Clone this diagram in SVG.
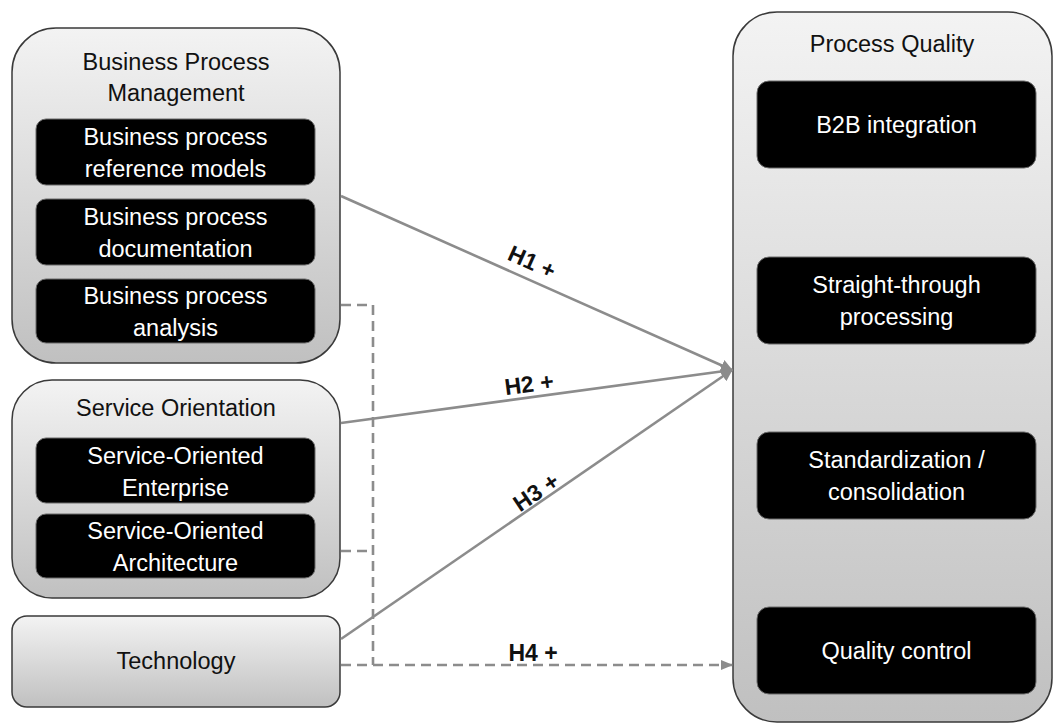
<svg xmlns="http://www.w3.org/2000/svg" width="1054" height="724" viewBox="0 0 1054 724">
  <style>
    .outer { stroke: #3a3a3a; stroke-width: 1.5; }
    .inner { fill: #000; stroke: #6a6a6a; stroke-width: 1; }
    .t { font-family: "Liberation Sans", Arial, sans-serif; font-size: 23.5px; text-anchor: middle; }
    .dark { fill: #111; }
    .light { fill: #fff; }
    .lbl { font-family: "Liberation Sans", Arial, sans-serif; font-size: 23px; font-weight: bold; fill: #111; text-anchor: middle; }
    .solid { stroke: #8c8c8c; stroke-width: 2.6; fill: none; }
    .dash { stroke: #8c8c8c; stroke-width: 2.6; fill: none; stroke-dasharray: 10 6; }
  </style>
  <defs>
    <linearGradient id="boxFill" x1="0" y1="0" x2="0" y2="1">
      <stop offset="0" stop-color="#f3f3f3"/>
      <stop offset="1" stop-color="#c0c0c0"/>
    </linearGradient>
    <marker id="arrow" viewBox="0 0 12 12" refX="11" refY="6" markerWidth="12" markerHeight="12" markerUnits="userSpaceOnUse" orient="auto">
      <path d="M0,0 L12,6 L0,12 z" fill="#8c8c8c"/>
    </marker>
    <marker id="arrowSmall" viewBox="0 0 12 10" refX="11" refY="5" markerWidth="14" markerHeight="10" markerUnits="userSpaceOnUse" orient="auto">
      <path d="M0,0 L12,5 L0,10 z" fill="#8c8c8c"/>
    </marker>
  </defs>

  <rect width="1054" height="724" fill="#fff"/>

  <!-- Business Process Management -->
  <g id="bpm">
    <rect class="outer" x="12" y="28" width="328" height="335" rx="44" fill="url(#boxFill)"/>
    <text class="t dark" x="176" y="70">Business Process</text>
    <text class="t dark" x="176" y="101">Management</text>
    <rect class="inner" x="36" y="119" width="279" height="66" rx="10"/>
    <text class="t light" x="175.5" y="145">Business process</text>
    <text class="t light" x="175.5" y="177">reference models</text>
    <rect class="inner" x="36" y="199" width="279" height="66" rx="10"/>
    <text class="t light" x="175.5" y="225">Business process</text>
    <text class="t light" x="175.5" y="257">documentation</text>
    <rect class="inner" x="36" y="279" width="279" height="64" rx="10"/>
    <text class="t light" x="175.5" y="304">Business process</text>
    <text class="t light" x="175.5" y="336">analysis</text>
  </g>

  <!-- Service Orientation -->
  <g id="so">
    <rect class="outer" x="12" y="380" width="328" height="218" rx="40" fill="url(#boxFill)"/>
    <text class="t dark" x="176" y="416">Service Orientation</text>
    <rect class="inner" x="36" y="438" width="279" height="65" rx="10"/>
    <text class="t light" x="175.5" y="464">Service-Oriented</text>
    <text class="t light" x="175.5" y="496">Enterprise</text>
    <rect class="inner" x="36" y="514" width="279" height="64" rx="10"/>
    <text class="t light" x="175.5" y="539">Service-Oriented</text>
    <text class="t light" x="175.5" y="571">Architecture</text>
  </g>

  <!-- Technology -->
  <g id="tech">
    <rect class="outer" x="12" y="616" width="328" height="91" rx="15" fill="url(#boxFill)"/>
    <text class="t dark" x="176" y="669">Technology</text>
  </g>

  <!-- Process Quality -->
  <g id="pq">
    <rect class="outer" x="733" y="12" width="319" height="710" rx="44" fill="url(#boxFill)"/>
    <text class="t dark" x="892" y="52">Process Quality</text>
    <rect class="inner" x="757" y="81" width="279" height="87" rx="12"/>
    <text class="t light" x="896.5" y="133">B2B integration</text>
    <rect class="inner" x="757" y="257" width="279" height="87" rx="12"/>
    <text class="t light" x="896.5" y="293">Straight-through</text>
    <text class="t light" x="896.5" y="325">processing</text>
    <rect class="inner" x="757" y="432" width="279" height="87" rx="12"/>
    <text class="t light" x="896.5" y="468">Standardization /</text>
    <text class="t light" x="896.5" y="500">consolidation</text>
    <rect class="inner" x="757" y="607" width="279" height="87" rx="12"/>
    <text class="t light" x="896.5" y="659">Quality control</text>
  </g>

  <!-- Hypothesis connectors -->
  <g id="connectors">
    <polyline class="dash" points="341,305 373,305 373,665"/>
    <polyline class="dash" points="341,551 373,551"/>
    <line class="dash" x1="341" y1="665" x2="732" y2="665" marker-end="url(#arrowSmall)"/>
    <line class="solid" x1="341" y1="196" x2="732" y2="370" marker-end="url(#arrow)"/>
    <line class="solid" x1="341" y1="423" x2="732" y2="370" marker-end="url(#arrow)"/>
    <line class="solid" x1="341" y1="639" x2="732" y2="370" marker-end="url(#arrow)"/>
    <text class="lbl" transform="translate(532,262) rotate(24)" y="8">H1 +</text>
    <text class="lbl" transform="translate(529,384) rotate(-7.5)" y="8">H2 +</text>
    <text class="lbl" transform="translate(536,492) rotate(-34)" y="8">H3 +</text>
    <text class="lbl" x="533" y="661">H4 +</text>
  </g>
</svg>
